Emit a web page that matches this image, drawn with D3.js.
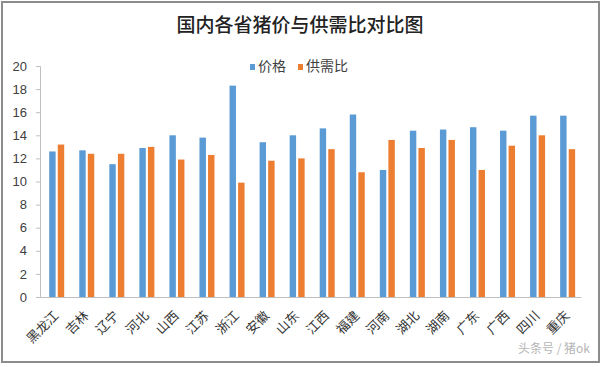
<!DOCTYPE html>
<html><head><meta charset="utf-8">
<script src="https://cdn.jsdelivr.net/npm/d3@7"></script>
<style>body{margin:0;background:#fff;}svg{display:block;}</style>
</head><body>
<script>
const provinces = ["黑龙江","吉林","辽宁","河北","山西","江苏","浙江","安徽","山东","江西","福建","河南","湖北","湖南","广东","广西","四川","重庆"];
const seriesNames = ["价格","供需比"];
const price = [12.6,12.7,11.5,12.9,14.0,13.8,18.3,13.4,14.0,14.6,15.8,11.0,14.4,14.5,14.7,14.4,15.7,15.7];
const ratio = [13.2,12.4,12.4,13.0,11.9,12.3,9.9,11.8,12.0,12.8,10.8,13.6,12.9,13.6,11.0,13.1,14.0,12.8];
const yTicks = [0,2,4,6,8,10,12,14,16,18,20];
const colors = ["#5B9BD5","#ED7D31"];

const W = 602, H = 367;
const svg = d3.select("body").append("svg").attr("width", W).attr("height", H);
svg.append("rect").attr("x",0).attr("y",0).attr("width",W).attr("height",H).attr("fill","#fff");
svg.append("rect").attr("x",2).attr("y",2).attr("width",597).attr("height",360)
  .attr("fill","none").attr("stroke","#8c8c8c").attr("stroke-width",2);

const x0 = d3.scaleBand().domain(provinces).range([40,581]).padding(0);
const x1 = d3.scaleBand().domain(seriesNames).range([9.2,24.2]).paddingInner(0.25);
const y = d3.scaleLinear().domain([0,20]).range([297,66]);

svg.append("text").attr("x",300).attr("y",32).attr("text-anchor","middle")
  .attr("font-family","Noto Sans CJK SC").attr("font-size",19).attr("font-weight",500)
  .attr("fill","#222").text("国内各省猪价与供需比对比图");

// y axis
const yAxis = svg.append("g").attr("transform","translate(40,0)")
  .call(d3.axisLeft(y).tickValues(yTicks).tickSize(4).tickPadding(9).tickFormat(d3.format("d")));
yAxis.select(".domain").attr("stroke","#bfbfbf");
yAxis.selectAll(".tick line").attr("stroke","#bfbfbf");
yAxis.selectAll("text").attr("font-family","Liberation Sans, Arial").attr("font-size",13).attr("fill","#404040");

// bars
const data = [price, ratio];
const g = svg.append("g");
seriesNames.forEach((s,i)=>{
  g.selectAll(".b"+i).data(provinces).enter().append("rect")
    .attr("x", d=>x0(d)+x1(s))
    .attr("width", x1.bandwidth())
    .attr("y", (d,j)=>y(data[i][j]))
    .attr("height", (d,j)=>y(0)-y(data[i][j]))
    .attr("fill", colors[i]);
});

// x axis
const xAxis = svg.append("g").attr("transform","translate(0,297)")
  .call(d3.axisBottom(x0).tickSize(0).tickFormat(""));
xAxis.select(".domain").attr("stroke","#bfbfbf");
svg.append("g").selectAll("text").data(provinces).enter().append("text")
  .attr("transform", d=>`translate(${x0(d)+x0.bandwidth()/2+2},314) rotate(-45)`)
  .attr("text-anchor","end").attr("dominant-baseline","middle")
  .attr("font-family","Noto Sans CJK SC").attr("font-size",13).attr("fill","#333")
  .text(d=>d);

// legend
const leg = svg.append("g");
const legX = [250, 298];
seriesNames.forEach((s,i)=>{
  leg.append("rect").attr("x",legX[i]).attr("y",64).attr("width",5).attr("height",6).attr("fill",colors[i]);
  leg.append("text").attr("x",legX[i]+8).attr("y",67).attr("dominant-baseline","middle")
    .attr("font-family","Noto Sans CJK SC").attr("font-size",14).attr("fill","#404040").text(s);
});

// watermark
svg.append("text").attr("x",590).attr("y",353).attr("text-anchor","end")
  .attr("font-family","Noto Sans CJK SC").attr("font-size",12).attr("fill","#b5b5b5").text("头条号 / 猪ok");
</script>
</body></html>
